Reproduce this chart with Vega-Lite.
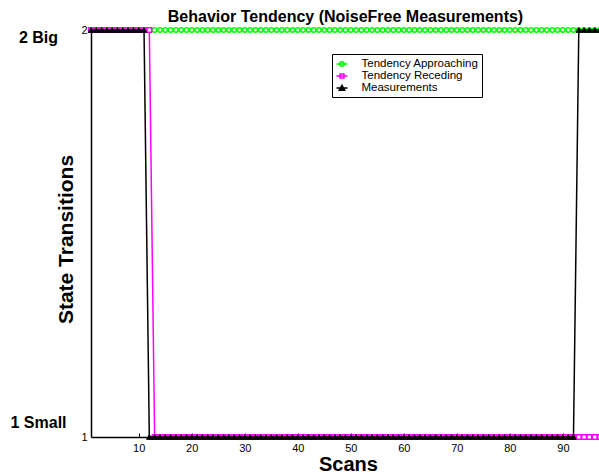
{
  "$schema": "https://vega.github.io/schema/vega-lite/v6.json",
  "width": 509,
  "height": 407,
  "autosize": {"type": "none"},
  "padding": {"left": 91, "top": 30, "right": 0, "bottom": 39},
  "background": "white",
  "config": {"view": {"stroke": null}, "font": "Liberation Sans"},
  "title": {"text": "Behavior Tendency (NoiseFree Measurements)", "fontSize": 16, "fontWeight": "bold", "color": "black", "anchor": "middle", "frame": "group", "baseline": "alphabetic", "offset": 7, "dy": 21},
  "data": {"values": [
    {"x":1,"a":null,"r":2,"m":2},{"x":2,"a":null,"r":2,"m":2},{"x":3,"a":null,"r":2,"m":2},{"x":4,"a":null,"r":2,"m":2},{"x":5,"a":null,"r":2,"m":2},
    {"x":6,"a":null,"r":2,"m":2},{"x":7,"a":null,"r":2,"m":2},{"x":8,"a":null,"r":2,"m":2},{"x":9,"a":null,"r":2,"m":2},{"x":10,"a":null,"r":2,"m":2},
    {"x":11,"a":null,"r":2,"m":2},{"x":12,"a":2,"r":2,"m":1},{"x":13,"a":2,"r":1,"m":1},{"x":14,"a":2,"r":1,"m":1},{"x":15,"a":2,"r":1,"m":1},
    {"x":16,"a":2,"r":1,"m":1},{"x":17,"a":2,"r":1,"m":1},{"x":18,"a":2,"r":1,"m":1},{"x":19,"a":2,"r":1,"m":1},{"x":20,"a":2,"r":1,"m":1},
    {"x":21,"a":2,"r":1,"m":1},{"x":22,"a":2,"r":1,"m":1},{"x":23,"a":2,"r":1,"m":1},{"x":24,"a":2,"r":1,"m":1},{"x":25,"a":2,"r":1,"m":1},
    {"x":26,"a":2,"r":1,"m":1},{"x":27,"a":2,"r":1,"m":1},{"x":28,"a":2,"r":1,"m":1},{"x":29,"a":2,"r":1,"m":1},{"x":30,"a":2,"r":1,"m":1},
    {"x":31,"a":2,"r":1,"m":1},{"x":32,"a":2,"r":1,"m":1},{"x":33,"a":2,"r":1,"m":1},{"x":34,"a":2,"r":1,"m":1},{"x":35,"a":2,"r":1,"m":1},
    {"x":36,"a":2,"r":1,"m":1},{"x":37,"a":2,"r":1,"m":1},{"x":38,"a":2,"r":1,"m":1},{"x":39,"a":2,"r":1,"m":1},{"x":40,"a":2,"r":1,"m":1},
    {"x":41,"a":2,"r":1,"m":1},{"x":42,"a":2,"r":1,"m":1},{"x":43,"a":2,"r":1,"m":1},{"x":44,"a":2,"r":1,"m":1},{"x":45,"a":2,"r":1,"m":1},
    {"x":46,"a":2,"r":1,"m":1},{"x":47,"a":2,"r":1,"m":1},{"x":48,"a":2,"r":1,"m":1},{"x":49,"a":2,"r":1,"m":1},{"x":50,"a":2,"r":1,"m":1},
    {"x":51,"a":2,"r":1,"m":1},{"x":52,"a":2,"r":1,"m":1},{"x":53,"a":2,"r":1,"m":1},{"x":54,"a":2,"r":1,"m":1},{"x":55,"a":2,"r":1,"m":1},
    {"x":56,"a":2,"r":1,"m":1},{"x":57,"a":2,"r":1,"m":1},{"x":58,"a":2,"r":1,"m":1},{"x":59,"a":2,"r":1,"m":1},{"x":60,"a":2,"r":1,"m":1},
    {"x":61,"a":2,"r":1,"m":1},{"x":62,"a":2,"r":1,"m":1},{"x":63,"a":2,"r":1,"m":1},{"x":64,"a":2,"r":1,"m":1},{"x":65,"a":2,"r":1,"m":1},
    {"x":66,"a":2,"r":1,"m":1},{"x":67,"a":2,"r":1,"m":1},{"x":68,"a":2,"r":1,"m":1},{"x":69,"a":2,"r":1,"m":1},{"x":70,"a":2,"r":1,"m":1},
    {"x":71,"a":2,"r":1,"m":1},{"x":72,"a":2,"r":1,"m":1},{"x":73,"a":2,"r":1,"m":1},{"x":74,"a":2,"r":1,"m":1},{"x":75,"a":2,"r":1,"m":1},
    {"x":76,"a":2,"r":1,"m":1},{"x":77,"a":2,"r":1,"m":1},{"x":78,"a":2,"r":1,"m":1},{"x":79,"a":2,"r":1,"m":1},{"x":80,"a":2,"r":1,"m":1},
    {"x":81,"a":2,"r":1,"m":1},{"x":82,"a":2,"r":1,"m":1},{"x":83,"a":2,"r":1,"m":1},{"x":84,"a":2,"r":1,"m":1},{"x":85,"a":2,"r":1,"m":1},
    {"x":86,"a":2,"r":1,"m":1},{"x":87,"a":2,"r":1,"m":1},{"x":88,"a":2,"r":1,"m":1},{"x":89,"a":2,"r":1,"m":1},{"x":90,"a":2,"r":1,"m":1},
    {"x":91,"a":2,"r":1,"m":1},{"x":92,"a":2,"r":1,"m":1},{"x":93,"a":2,"r":1,"m":2},{"x":94,"a":2,"r":1,"m":2},{"x":95,"a":2,"r":1,"m":2},
    {"x":96,"a":2,"r":1,"m":2},{"x":97,"a":2,"r":1,"m":2}
  ]},
  "encoding": {
    "x": {"field": "x", "type": "quantitative",
      "scale": {"domain": [1, 97], "nice": false, "zero": false},
      "axis": {"values": [10,20,30,40,50,60,70,80,90], "grid": false, "zindex": 0,
        "domainColor": "black", "domainWidth": 1.5, "tickColor": "black", "tickSize": -4, "tickWidth": 1,
        "labelColor": "black", "labelFontSize": 11, "labelPadding": 9, "labelFlush": false,
        "title": "Scans", "titleFontSize": 20, "titleFontWeight": "bold", "titleColor": "black",
        "titleX": 257, "titleY": 33, "titleBaseline": "alphabetic", "titleAlign": "center"}}
  },
  "resolve": {"scale": {"y": "shared"}, "axis": {"y": "independent"}},
  "layer": [
    {"mark": {"type": "line", "strokeWidth": 1.5},
     "encoding": {
       "y": {"field": "a", "type": "quantitative", "scale": {"domain": [1, 2], "nice": false, "zero": false},
         "axis": {"orient": "left", "values": [1, 2], "format": "d", "grid": false, "zindex": 0, "ticks": false,
           "domainColor": "black", "domainWidth": 1.5, "labelColor": "black", "labelFontSize": 11, "labelPadding": 4,
           "title": "State Transitions", "titleFontSize": 21, "titleFontWeight": "bold", "titleColor": "black",
           "titleAngle": -90, "titleX": -19, "titleY": 209, "titleBaseline": "alphabetic", "titleAlign": "center"}},
       "color": {"datum": "Tendency Approaching", "type": "nominal",
         "scale": {"domain": ["Tendency Approaching", "Tendency Receding", "Measurements"], "range": ["#00ff00", "#ff00ff", "#000000"]},
         "legend": {"title": null, "orient": "none", "legendX": 241, "legendY": 24,
           "fillColor": "white", "strokeColor": "black", "padding": 3.5,
           "labelFontSize": 11.5, "labelColor": "black", "labelOffset": 13, "rowPadding": -3,
           "symbolSize": 121, "symbolStrokeWidth": 1.5,
           "encode": {"symbols": {"update": {
             "shape": {"signal": "datum.value === 'Measurements' ? 'M-1,0H1M0,-0.5L0.5,0.4H-0.5Z' : datum.value === 'Tendency Receding' ? 'M-1,0H1M-0.36,-0.36H0.36V0.36H-0.36Z' : 'M-1,0H1M0.42,0A0.42,0.42,0,1,1,-0.42,0A0.42,0.42,0,1,1,0.42,0Z'"},
             "fill": {"signal": "datum.value === 'Measurements' ? 'black' : 'white'"}}}}}}
     }},
    {"mark": {"type": "point", "shape": "circle", "size": 20, "filled": false, "fill": "white", "stroke": "#00ff00", "strokeWidth": 1.5, "opacity": 1},
     "encoding": {"y": {"field": "a", "type": "quantitative", "axis": null}}},
    {"mark": {"type": "line", "strokeWidth": 1.5},
     "encoding": {
       "y": {"field": "r", "type": "quantitative",
         "axis": {"orient": "left", "values": [1, 2], "grid": false, "domain": false, "ticks": false, "zindex": 0,
           "labelExpr": "datum.value == 2 ? '2 Big' : '1 Small'",
           "labelFontSize": 16, "labelFontWeight": "bold", "labelColor": "black", "labelAlign": "center", "labelPadding": 53,
           "labelOffset": {"condition": {"test": "datum.value == 2", "value": 7}, "value": -15},
           "title": null}},
       "color": {"datum": "Tendency Receding", "type": "nominal"}
     }},
    {"mark": {"type": "point", "shape": "square", "size": 22, "filled": false, "fill": "white", "stroke": "#ff00ff", "strokeWidth": 1.5, "opacity": 1},
     "encoding": {"y": {"field": "r", "type": "quantitative", "axis": null}}},
    {"mark": {"type": "line", "strokeWidth": 1.5},
     "encoding": {
       "y": {"field": "m", "type": "quantitative", "axis": null},
       "color": {"datum": "Measurements", "type": "nominal"}
     }},
    {"mark": {"type": "point", "shape": "triangle-up", "size": 30, "filled": true, "fill": "black", "stroke": "black", "strokeWidth": 1, "opacity": 1},
     "encoding": {"y": {"field": "m", "type": "quantitative", "axis": null}}}
  ]
}
